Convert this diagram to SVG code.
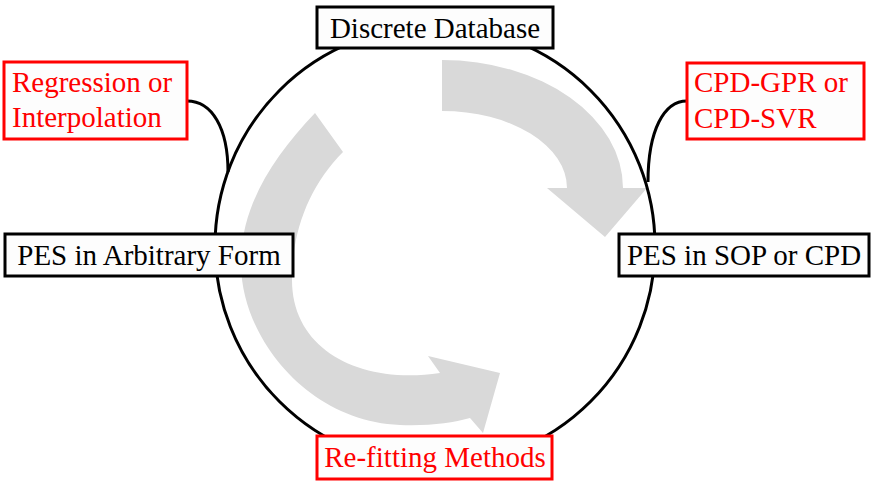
<svg xmlns="http://www.w3.org/2000/svg" width="872" height="491" viewBox="0 0 872 491">
<style>
.box{fill:#fdfdfd;stroke:#000;stroke-width:3}
.rbox{fill:#fdfdfd;stroke:#ff0000;stroke-width:3}
.t{font-size:29px;fill:#000}
.rt{font-size:29px;fill:#ff0000}
.ln{fill:none;stroke:#000;stroke-width:3}
.arr{fill:#d9d9d9;stroke:none}
</style>
<rect width="872" height="491" fill="#fff"/>
<g id="cycle-arrows">
<path class="arr" d="M442,60 A181,128 0 0 1 623,188 L647,188 L605,237 L547,188 L567,188 A125,77 0 0 0 442,111 Z"/>
<path class="arr" d="M315,113 C270,160 240,210 241,265 C242,340 310,422 400,425 C430,426 452,423 470,418 L483,433 L500,373 L428,356 L440,373 C360,385 292,350 292,280 C292,230 310,185 343,152 Z"/>
</g>
<g id="connectors">
<circle class="ln" cx="435" cy="246" r="220"/>
<path class="ln" d="M187,101 C212,101 228,128 228,172"/>
<path class="ln" d="M687,101 C664,101 648,130 648,182"/>
</g>
<g font-family="'Liberation Serif', 'Times New Roman', 'DejaVu Serif', serif">
<g id="discrete-database">
<rect class="box" x="317" y="7" width="236" height="41"/>
<text class="t" x="435" y="38" text-anchor="middle">Discrete Database</text>
</g>
<g id="regression">
<rect class="rbox" x="4" y="62" width="183" height="77"/>
<text class="rt" x="12" y="92">Regression or</text>
<text class="rt" x="12" y="127">Interpolation</text>
</g>
<g id="cpd-gpr">
<rect class="rbox" x="687" y="63" width="177" height="76"/>
<text class="rt" x="694" y="92">CPD-GPR or</text>
<text class="rt" x="694" y="128">CPD-SVR</text>
</g>
<g id="pes-arbitrary">
<rect class="box" x="5" y="234" width="288" height="42"/>
<text class="t" x="149" y="265" text-anchor="middle">PES in Arbitrary Form</text>
</g>
<g id="pes-sop">
<rect class="box" x="619" y="234" width="250" height="42"/>
<text class="t" x="744" y="265" text-anchor="middle">PES in SOP or CPD</text>
</g>
<g id="refitting">
<rect class="rbox" x="317" y="436" width="235" height="43"/>
<text class="rt" x="435" y="467" text-anchor="middle">Re-fitting Methods</text>
</g>
</g>
</svg>
